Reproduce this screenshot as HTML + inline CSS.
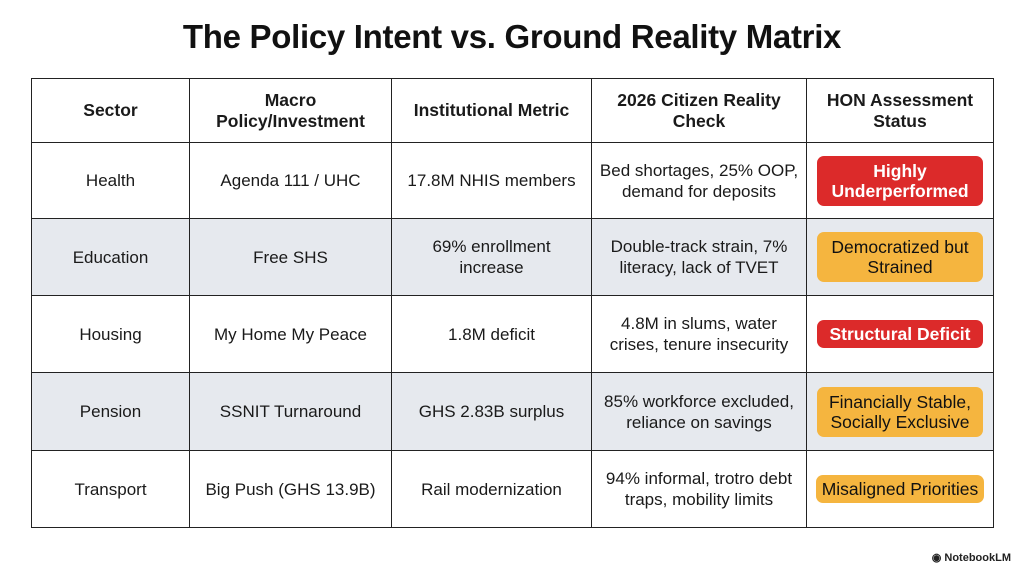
<!DOCTYPE html>
<html><head><style>
body{margin:0;width:1024px;height:571px;background:#fff;font-family:"Liberation Sans",sans-serif;position:relative;overflow:hidden}
h1{position:absolute;left:0;width:1024px;top:18px;margin:0;text-align:center;font-size:33px;font-weight:bold;color:#111;letter-spacing:-0.3px}
table{position:absolute;left:31px;top:78px;border-collapse:collapse;width:962px;height:450px;table-layout:fixed}
td,th{border:1.5px solid #222;text-align:center;vertical-align:middle;font-size:17px;color:#1a1a1a;line-height:21px;padding:0 2px;white-space:nowrap}
th{font-weight:bold;font-size:17.5px;height:63px}
tr.g td{background:#e6e9ee}
.b{display:block;margin:0 auto;border-radius:7px;width:166px;box-sizing:border-box;font-size:17.5px;line-height:20px}
.r{background:#dc2a2a;color:#fff;font-weight:bold}
.o{background:#f5b53f;color:#111}
.lm{position:absolute;right:13px;top:551px;font-size:11px;color:#222;font-weight:bold}
</style></head><body>
<h1>The Policy Intent vs. Ground Reality Matrix</h1>
<table>
<colgroup><col style="width:158px"><col style="width:202px"><col style="width:200px"><col style="width:215px"><col style="width:187px"></colgroup>
<tr><th>Sector</th><th>Macro<br>Policy/Investment</th><th>Institutional Metric</th><th>2026 Citizen Reality<br>Check</th><th>HON Assessment<br>Status</th></tr>
<tr style="height:76px"><td>Health</td><td>Agenda 111 / UHC</td><td>17.8M NHIS members</td><td>Bed shortages, 25% OOP,<br>demand for deposits</td><td><span class="b r" style="padding:5px 0">Highly<br>Underperformed</span></td></tr>
<tr class="g" style="height:77px"><td>Education</td><td>Free SHS</td><td>69% enrollment<br>increase</td><td>Double-track strain, 7%<br>literacy, lack of TVET</td><td><span class="b o" style="padding:5px 0">Democratized but<br>Strained</span></td></tr>
<tr style="height:77px"><td>Housing</td><td>My Home My Peace</td><td>1.8M deficit</td><td>4.8M in slums, water<br>crises, tenure insecurity</td><td><span class="b r" style="padding:4px 0">Structural Deficit</span></td></tr>
<tr class="g" style="height:78px"><td>Pension</td><td>SSNIT Turnaround</td><td>GHS 2.83B surplus</td><td>85% workforce excluded,<br>reliance on savings</td><td><span class="b o" style="padding:5px 0">Financially Stable,<br>Socially Exclusive</span></td></tr>
<tr style="height:77px"><td>Transport</td><td>Big Push (GHS 13.9B)</td><td>Rail modernization</td><td>94% informal, trotro debt<br>traps, mobility limits</td><td><span class="b o" style="padding:4px 0;width:168px">Misaligned Priorities</span></td></tr>
</table>
<div class="lm">◉ NotebookLM</div>
</body></html>
